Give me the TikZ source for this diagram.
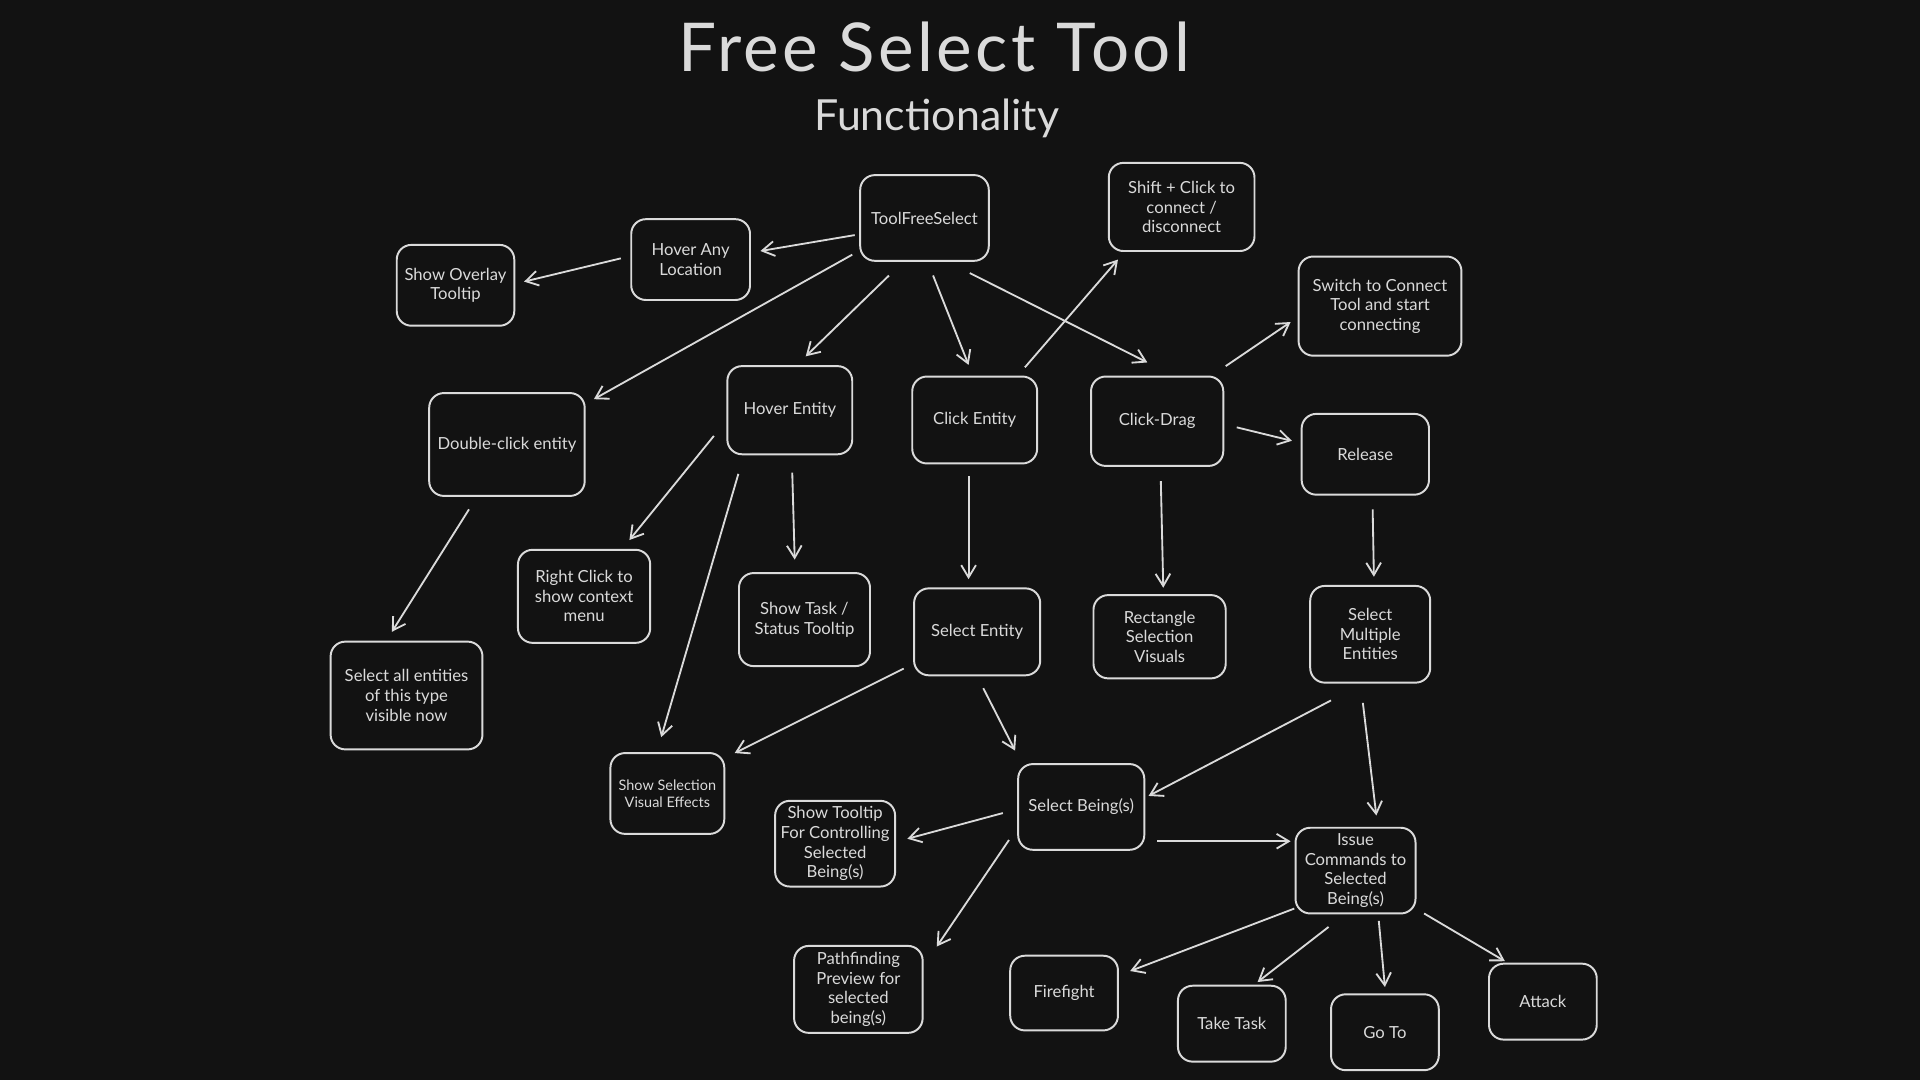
\documentclass[tikz,border=0pt]{standalone}
\usepackage{fontspec}
\setmainfont{Lato}
\usetikzlibrary{arrows.meta}
\definecolor{bg}{HTML}{121212}
\definecolor{ink}{HTML}{DADADA}
\tikzset{
  box/.style={draw=ink, line width=1.6pt, rounded corners=12pt, fill=bg, text=ink,
    minimum width=#1, align=center, inner sep=2pt, font=\fontsize{13.6}{16}\selectfont},
  box/.default=100pt,
  arr/.style={draw=ink, line width=1.5pt, -{Straight Barb[length=10pt,width=12pt,line width=1.5pt]}},
}
\begin{document}
\begin{tikzpicture}[x=1pt,y=-1pt]
\useasboundingbox (0,0) rectangle (1568,882);
\fill[bg] (0,0) rectangle (1568,882);
\node[text=ink, font=\fontsize{55}{60}\selectfont\addfontfeatures{LetterSpace=5}] (title) at (763,38) {Free Select Tool};
\node[text=ink, font=\fontsize{35}{40}\selectfont] (sub) at (765,97) {Functionality};

\node[box=105pt, minimum height=70pt] (tfs) at (755,178) {ToolFreeSelect};
\node[box=97pt, minimum height=66pt] (hany) at (564,212) {Hover Any\\Location};
\node[box=96pt, minimum height=66pt] (sot) at (372,233) {Show Overlay\\Tooltip};
\node[box=119pt, minimum height=72pt] (shift) at (965,169) {Shift + Click to\\connect /\\disconnect};
\node[box=133pt, minimum height=81pt] (switch) at (1127,250) {Switch to Connect\\Tool and start\\connecting};
\node[box=127pt, minimum height=84pt] (dbl) at (414,363) {Double-click entity};
\node[box=102pt, minimum height=72pt] (hent) at (645,335) {Hover Entity};
\node[box=102pt, minimum height=71pt] (cent) at (796,343) {Click Entity};
\node[box=108pt, minimum height=73pt] (cdrag) at (945,344) {Click-Drag};
\node[box=104pt, minimum height=66pt] (rel) at (1115,371) {Release};
\node[box=108pt, minimum height=76pt] (rclick) at (477,487) {Right Click to\\show context\\menu};
\node[box=107pt, minimum height=76pt] (stask) at (657,506) {Show Task /\\Status Tooltip};
\node[box=103pt, minimum height=71pt] (sent) at (798,516) {Select Entity};
\node[box=108pt, minimum height=68pt] (rect) at (947,520) {Rectangle\\Selection\\Visuals};
\node[box=98pt, minimum height=79pt] (smul) at (1119,518) {Select\\Multiple\\Entities};
\node[box=124pt, minimum height=88pt] (sall) at (332,568) {Select all entities\\of this type\\visible now};
\node[box=93pt, minimum height=66pt, font=\fontsize{11.8}{14}\selectfont] (ssel) at (545,648) {Show Selection\\Visual Effects};
\node[box=103pt, minimum height=70pt] (sbeing) at (883,659) {Select Being(s)};
\node[box=98pt, minimum height=70pt] (stip) at (682,689) {Show Tooltip\\For Controlling\\Selected\\Being(s)};
\node[box=98pt, minimum height=70pt] (issue) at (1107,711) {Issue\\Commands to\\Selected\\Being(s)};
\node[box=105pt, minimum height=71pt] (path) at (701,808) {Pathfinding\\Preview for\\selected\\being(s)};
\node[box=88pt, minimum height=61pt] (fire) at (869,811) {Firefight};
\node[box=88pt, minimum height=62pt] (take) at (1006,836) {Take Task};
\node[box=88pt, minimum height=62pt] (goto) at (1131,843) {Go To};
\node[box=88pt, minimum height=62pt] (attack) at (1260,818) {Attack};

\draw[arr] ([shift={(-57,14)}]tfs.center) -- ([shift={(57,-7)}]hany.center);
\draw[arr] ([shift={(-57,-1)}]hany.center) -- ([shift={(56,-3)}]sot.center);
\draw[arr] ([shift={(-59,30)}]tfs.center) -- ([shift={(71,-37)}]dbl.center);
\draw[arr] ([shift={(-29,47)}]tfs.center) -- ([shift={(13,-44)}]hent.center);
\draw[arr] ([shift={(7,47)}]tfs.center) -- ([shift={(-5,-45)}]cent.center);
\draw[arr] ([shift={(37,45)}]tfs.center) -- ([shift={(-8,-48)}]cdrag.center);
\draw[arr] ([shift={(41,-43)}]cent.center) -- ([shift={(-52,43)}]shift.center);
\draw[arr] ([shift={(56,-45)}]cdrag.center) -- ([shift={(-73,13)}]switch.center);
\draw[arr] ([shift={(65,5)}]cdrag.center) -- ([shift={(-60,-11)}]rel.center);
\draw[arr] ([shift={(-31,53)}]dbl.center) -- ([shift={(-12,-52)}]sall.center);
\draw[arr] ([shift={(-62,21)}]hent.center) -- ([shift={(37,-46)}]rclick.center);
\draw[arr] ([shift={(-42,52)}]hent.center) -- ([shift={(-5,-46)}]ssel.center);
\draw[arr] ([shift={(2,51)}]hent.center) -- ([shift={(-8,-49)}]stask.center);
\draw[arr] ([shift={(-5,46)}]cent.center) -- ([shift={(-7,-43)}]sent.center);
\draw[arr] ([shift={(3,49)}]cdrag.center) -- ([shift={(3,-40)}]rect.center);
\draw[arr] ([shift={(6,45)}]rel.center) -- ([shift={(3,-47)}]smul.center);
\draw[arr] ([shift={(-60,30)}]sent.center) -- ([shift={(55,-33)}]ssel.center);
\draw[arr] ([shift={(5,46)}]sent.center) -- ([shift={(-54,-46)}]sbeing.center);
\draw[arr] ([shift={(-32,54)}]smul.center) -- ([shift={(55,-9)}]sbeing.center);
\draw[arr] ([shift={(-6,56)}]smul.center) -- ([shift={(17,-45)}]issue.center);
\draw[arr] ([shift={(-64,5)}]sbeing.center) -- ([shift={(59,-4)}]stip.center);
\draw[arr] ([shift={(-59,27)}]sbeing.center) -- ([shift={(64,-35)}]path.center);
\draw[arr] ([shift={(62,28)}]sbeing.center) -- ([shift={(-53,-24)}]issue.center);
\draw[arr] ([shift={(-50,31)}]issue.center) -- ([shift={(54,-18)}]fire.center);
\draw[arr] ([shift={(-22,46)}]issue.center) -- ([shift={(21,-34)}]take.center);
\draw[arr] ([shift={(19,41)}]issue.center) -- ([shift={(0,-37)}]goto.center);
\draw[arr] ([shift={(56,35)}]issue.center) -- ([shift={(-31,-33)}]attack.center);
\end{tikzpicture}
\end{document}
